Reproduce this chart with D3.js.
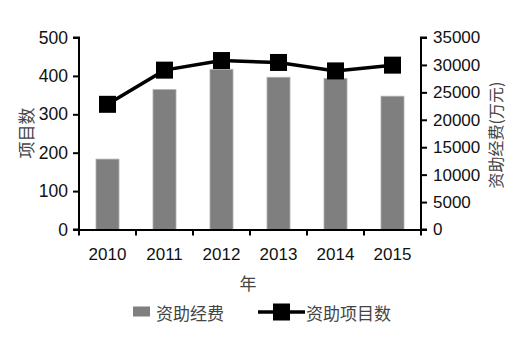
<!DOCTYPE html>
<html><head><meta charset="utf-8">
<script src="https://cdn.jsdelivr.net/npm/d3@7"></script>
<style>body{margin:0;background:#fff}</style>
</head><body>
<svg id="c" width="531" height="344"></svg>
<script>
const years = ["2010","2011","2012","2013","2014","2015"];
const funding = [12830, 25500, 29200, 27750, 27550, 24300];   // 资助经费 (万元), right axis
const projects = [326, 415, 440, 435, 413, 428];              // 资助项目数, left axis
const leftTicks = [0,100,200,300,400,500];
const rightTicks = [0,5000,10000,15000,20000,25000,30000,35000];

const svg = d3.select("#c");
const m = {l:79, r:421, t:37.5, b:229.5};
const xb = d3.scaleBand().domain(years).range([m.l, m.r]);
const yL = d3.scaleLinear().domain([0,500]).range([m.b, m.t]);
const yR = d3.scaleLinear().domain([0,35000]).range([m.b, m.t]);
const numFont = "Liberation Sans, Arial, sans-serif";
const cjkFont = "Noto Sans CJK SC, sans-serif";

// bars
svg.append("g").selectAll("rect").data(years).join("rect")
  .attr("x", (d)=>xb(d)+xb.bandwidth()/2-11.5)
  .attr("width", 23)
  .attr("y", (d,i)=>yR(funding[i]))
  .attr("height", (d,i)=>m.b-yR(funding[i]))
  .attr("fill", "#7f7f7f").attr("stroke","#b0b0b0").attr("stroke-width",0.8);

// axes
const axL = svg.append("g").attr("transform",`translate(${m.l},0)`)
  .call(d3.axisLeft(yL).tickValues(leftTicks).tickSize(6).tickPadding(5).tickFormat(d3.format("d")));
const axR = svg.append("g").attr("transform",`translate(${m.r},0)`)
  .call(d3.axisRight(yR).tickValues(rightTicks).tickSize(6).tickPadding(6).tickFormat(d3.format("d")));
const axX = svg.append("g").attr("transform",`translate(0,${m.b})`)
  .call(d3.axisBottom(xb).tickSize(0).tickPadding(18));
// boundary ticks on x axis
svg.append("g").selectAll("line").data(d3.range(years.length+1)).join("line")
  .attr("x1", i=>m.l+i*xb.bandwidth()).attr("x2", i=>m.l+i*xb.bandwidth())
  .attr("y1", m.b).attr("y2", m.b+6).attr("stroke","#000").attr("stroke-width",2);

[axL,axR,axX].forEach(a=>{
  a.select(".domain").attr("stroke","#000").attr("stroke-width",2);
  a.selectAll(".tick line").attr("stroke","#000").attr("stroke-width",2);
  a.selectAll("text").attr("font-family",numFont).attr("font-size",17).attr("fill","#111");
});
axL.selectAll("text").attr("font-size",17.5);
axL.select(".domain").attr("d",`M-6,${m.t}H0V${m.b}H-6`);
axR.select(".domain").attr("d",`M6,${m.t}H0V${m.b}H6`);

// line
const line = d3.line().x((d,i)=>xb(years[i])+xb.bandwidth()/2).y(d=>yL(d));
svg.append("path").datum(projects).attr("d",line).attr("fill","none")
  .attr("stroke","#000").attr("stroke-width",3.5);
svg.append("g").selectAll("rect").data(projects).join("rect")
  .attr("x",(d,i)=>xb(years[i])+xb.bandwidth()/2-8.5).attr("y",d=>yL(d)-8.5)
  .attr("width",17).attr("height",17).attr("fill","#000");

// axis titles
svg.append("text").attr("transform","translate(25,133) rotate(-90)")
  .attr("text-anchor","middle").attr("dominant-baseline","central")
  .attr("font-family",cjkFont).attr("font-size",17).attr("fill","#444").text("项目数");
svg.append("text").attr("transform","translate(495,135) rotate(-90)")
  .attr("text-anchor","middle").attr("dominant-baseline","central")
  .attr("font-family",cjkFont).attr("font-size",16).attr("fill","#444").text("资助经费(万元)");
svg.append("text").attr("x",248).attr("y",282).attr("text-anchor","middle")
  .attr("dominant-baseline","central").attr("font-family",cjkFont).attr("font-size",17)
  .attr("fill","#444").text("年");

// legend
const lg = svg.append("g");
lg.append("rect").attr("x",133).attr("y",306.5).attr("width",17).attr("height",10).attr("fill","#7f7f7f");
lg.append("text").attr("x",156).attr("y",312).attr("dominant-baseline","central")
  .attr("font-family",cjkFont).attr("font-size",17).attr("fill","#444").text("资助经费");
lg.append("line").attr("x1",258).attr("x2",305).attr("y1",312).attr("y2",312)
  .attr("stroke","#000").attr("stroke-width",3.5);
lg.append("rect").attr("x",273).attr("y",303.5).attr("width",17).attr("height",17).attr("fill","#000");
lg.append("text").attr("x",306).attr("y",312).attr("dominant-baseline","central")
  .attr("font-family",cjkFont).attr("font-size",17).attr("fill","#444").text("资助项目数");
</script>
</body></html>
